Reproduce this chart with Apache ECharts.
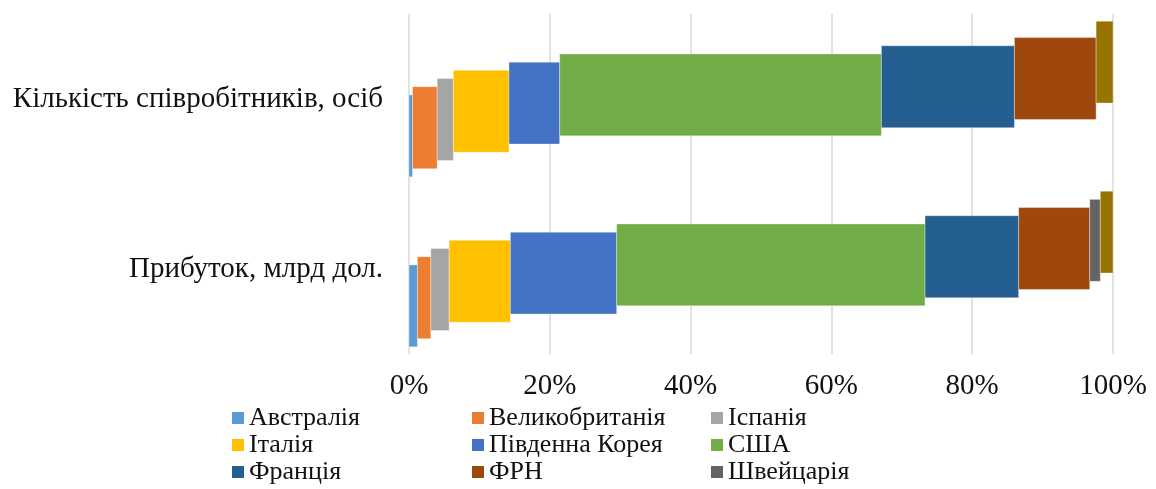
<!DOCTYPE html>
<html>
<head>
<meta charset="utf-8">
<script src="https://cdn.jsdelivr.net/npm/echarts@6/dist/echarts.min.js"></script>
<style>
  html, body { margin: 0; padding: 0; background: #fff; }
  #chart { width: 1156px; height: 489px; }
</style>
</head>
<body>
<div id="chart"></div>
<script>
// Categories from bottom to top of the vertical axis
const categories = ['Прибуток, млрд дол.', 'Кількість співробітників, осіб'];

const countries = [
  'Австралія', 'Великобританія', 'Іспанія', 'Італія', 'Південна Корея',
  'США', 'Франція', 'ФРН', 'Швейцарія', 'Японія'
];

// Share of each country, % (same order as countries)
const profitShare = [1.2, 1.9, 2.6, 8.7, 15.1, 43.8, 13.3, 10.1, 1.5, 1.8];
const staffShare  = [0.5, 3.5, 2.3, 7.9, 7.2, 45.7, 18.9, 11.6, 0.0, 2.4];

const xTicks = [0, 20, 40, 60, 80, 100];

const colors = [
  '#5B9BD5', '#ED7D31', '#A5A5A5', '#FFC000', '#4472C4',
  '#70AD47', '#255E91', '#9E480E', '#636363', '#997300'
];

const FONT = '"Liberation Serif", "Times New Roman", serif';
const BAR_FRAC = 0.482;   // bar thickness as a fraction of the category band
const STEP_FRAC = 0.0482; // vertical shift between consecutive series

// Cumulative start/end of every segment per category
const rows = [profitShare, staffShare];
const starts = rows.map(r => {
  let acc = 0;
  return r.map(v => { const s = acc; acc += v; return s; });
});

function renderItem(params, api) {
  const start = api.value(0);
  const end = api.value(1);
  const cat = api.value(2);
  if (end - start <= 0) return null;
  const p0 = api.coord([start, cat]);
  const p1 = api.coord([end, cat]);
  const band = api.size([0, 1])[1];
  const h = band * BAR_FRAC;
  const step = band * STEP_FRAC;
  const cy = p0[1] + (4.5 - params.seriesIndex) * step;
  return {
    type: 'rect',
    shape: { x: p0[0], y: cy - h / 2, width: p1[0] - p0[0], height: h },
    style: api.style({ stroke: 'rgba(255,255,255,0.35)', lineWidth: 1 })
  };
}

const series = countries.map((name, i) => ({
  name: name,
  type: 'custom',
  renderItem: renderItem,
  itemStyle: { color: colors[i] },
  encode: { x: [0, 1], y: 2 },
  data: rows.map((r, c) => [starts[c][i], starts[c][i] + r[i], c])
}));

const legendBase = {
  orient: 'vertical',
  top: 405,
  height: 84,
  padding: 0,
  icon: 'rect',
  itemWidth: 12,
  itemHeight: 12,
  itemGap: 1,
  selectedMode: false,
  textStyle: { fontFamily: FONT, fontSize: 26, lineHeight: 26, color: '#111' }
};

const chart = echarts.init(document.getElementById('chart'), null, { renderer: 'canvas' });
chart.setOption({
  animation: false,
  backgroundColor: '#fff',
  grid: { left: 409, right: 43, top: 14, bottom: 135, containLabel: false },
  legend: [
    Object.assign({}, legendBase, { left: 232, data: [countries[0], countries[3], countries[6]] }),
    Object.assign({}, legendBase, { left: 472, data: [countries[1], countries[4], countries[7]] }),
    Object.assign({}, legendBase, { left: 711, data: [countries[2], countries[5], countries[8]] })
  ],
  xAxis: {
    type: 'value',
    min: xTicks[0],
    max: xTicks[xTicks.length - 1],
    interval: xTicks[1] - xTicks[0],
    axisLine: { show: false },
    axisTick: { show: false },
    splitLine: { show: true, lineStyle: { color: '#d9d9d9', width: 1.5 } },
    axisLabel: {
      formatter: '{value}%',
      fontFamily: FONT,
      fontSize: 29,
      color: '#111',
      margin: 18
    }
  },
  yAxis: {
    type: 'category',
    data: categories,
    axisLine: { show: false },
    axisTick: { show: false },
    splitLine: { show: false },
    axisLabel: {
      fontFamily: FONT,
      fontSize: 29,
      color: '#111',
      margin: 26
    }
  },
  series: series
});
</script>
</body>
</html>
